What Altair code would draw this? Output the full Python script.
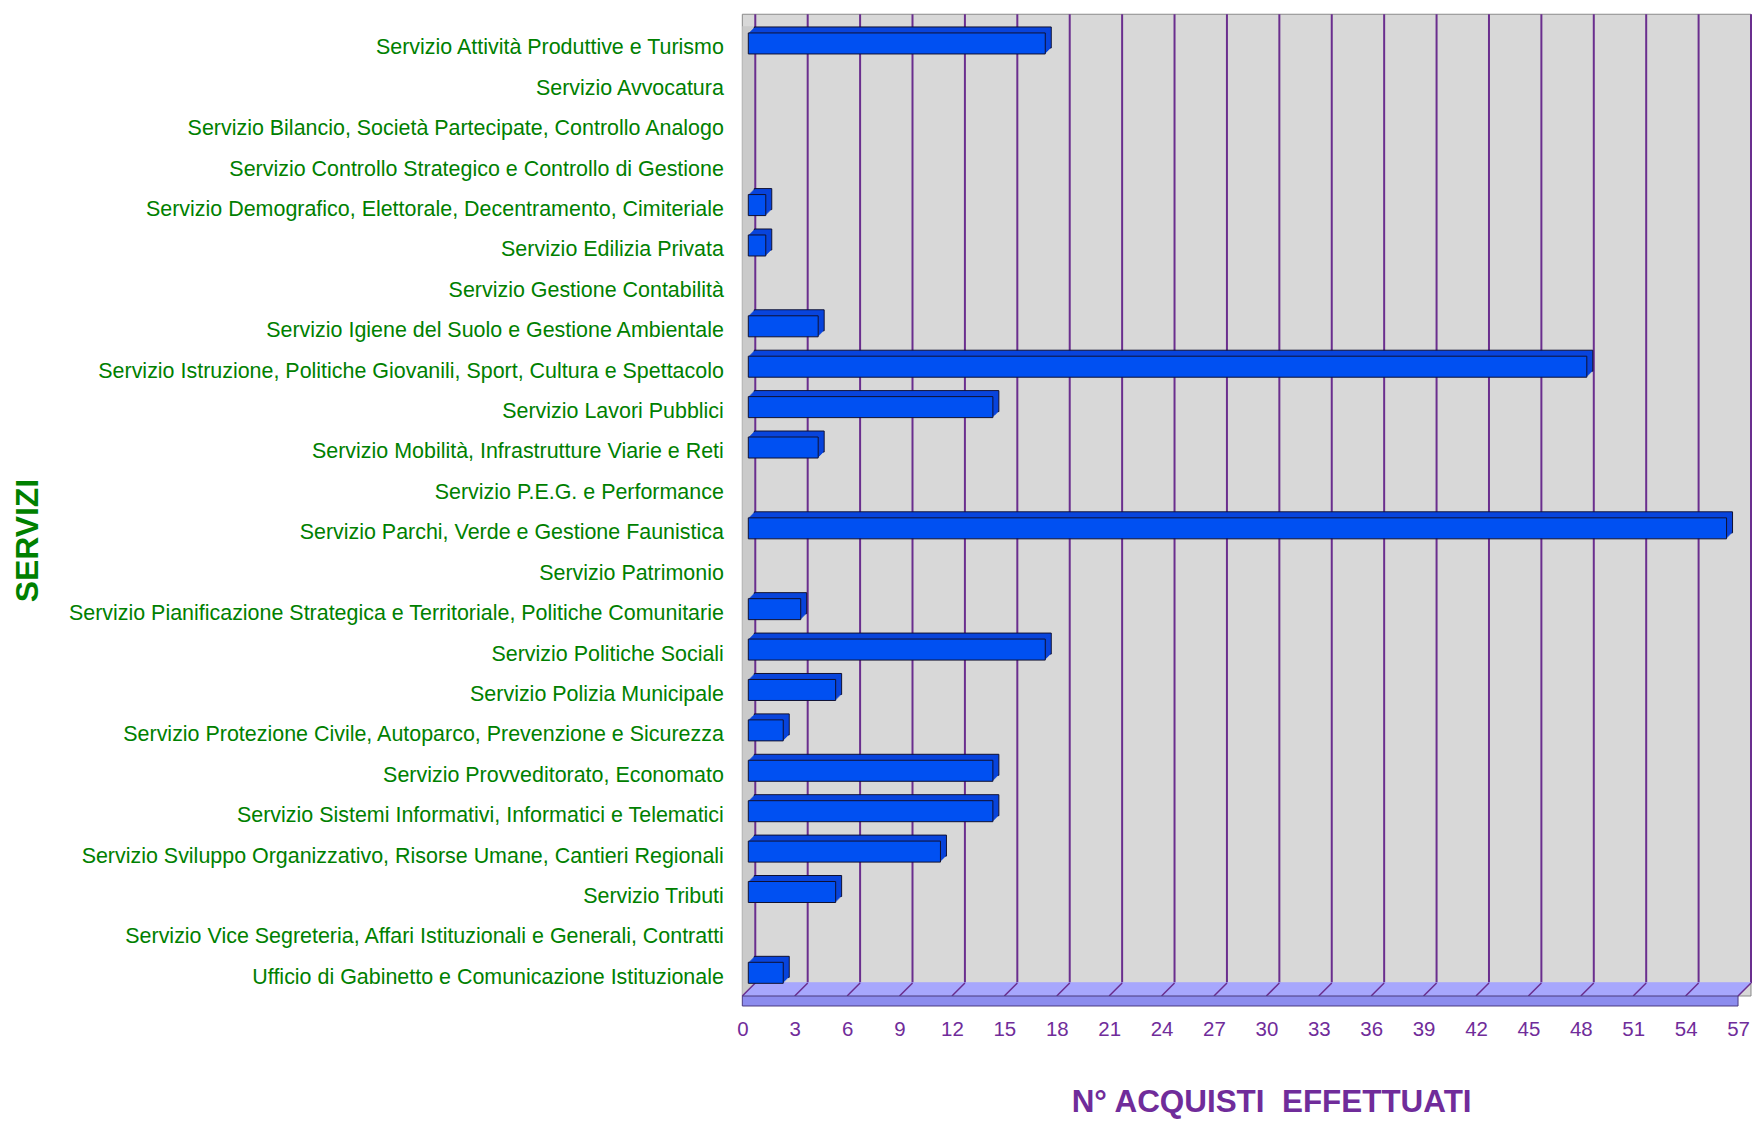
import altair as alt
import pandas as pd

services = [
    "Servizio Attività Produttive e Turismo",
    "Servizio Avvocatura",
    "Servizio Bilancio, Società Partecipate, Controllo Analogo",
    "Servizio Controllo Strategico e Controllo di Gestione",
    "Servizio Demografico, Elettorale, Decentramento, Cimiteriale",
    "Servizio Edilizia Privata",
    "Servizio Gestione Contabilità",
    "Servizio Igiene del Suolo e Gestione Ambientale",
    "Servizio Istruzione, Politiche Giovanili, Sport, Cultura e Spettacolo",
    "Servizio Lavori Pubblici",
    "Servizio Mobilità, Infrastrutture Viarie e Reti",
    "Servizio P.E.G. e Performance",
    "Servizio Parchi, Verde e Gestione Faunistica",
    "Servizio Patrimonio",
    "Servizio Pianificazione Strategica e Territoriale, Politiche Comunitarie",
    "Servizio Politiche Sociali",
    "Servizio Polizia Municipale",
    "Servizio Protezione Civile, Autoparco, Prevenzione e Sicurezza",
    "Servizio Provveditorato, Economato",
    "Servizio Sistemi Informativi, Informatici e Telematici",
    "Servizio Sviluppo Organizzativo, Risorse Umane, Cantieri Regionali",
    "Servizio Tributi",
    "Servizio Vice Segreteria, Affari Istituzionali e Generali, Contratti",
    "Ufficio di Gabinetto e Comunicazione Istituzionale",
]
acquisti = [17, 0, 0, 0, 1, 1, 0, 4, 48, 14, 4, 0, 56, 0, 3, 17, 5, 2, 14, 14, 11, 5, 0, 2]
ticks = list(range(0, 58, 3))

FONT = "Liberation Sans"
GREEN = "#008000"
PURPLE = "#702C9A"
GRID = "#6A2E8E"

df = pd.DataFrame({"servizio": services, "n": acquisti})
bars_df = df[df["n"] > 0]
tick_df = pd.DataFrame({"t": ticks})
one = pd.DataFrame({"a": [0]})

W, H = 998, 972
DEPTH = 13
HALF = 6

xscale = alt.Scale(domain=[0, 57], nice=False, zero=True)
yscale = alt.Scale(domain=services, paddingInner=0.48, paddingOuter=0.24)

xaxis = alt.Axis(values=ticks, title="N° ACQUISTI\u00a0 EFFETTUATI",
                 labelFont=FONT, labelFontSize=20.5, labelColor=PURPLE,
                 labelBaseline="middle", labelPadding=34, labelFlush=False,
                 ticks=False, domain=False, grid=False,
                 titleFont=FONT, titleFontSize=31.5, titleFontWeight="bold",
                 titleColor=PURPLE, titleX=530, titleY=107,
                 titleAlign="center", titleBaseline="middle")
yaxis = alt.Axis(title="SERVIZI", labelFont=FONT, labelFontSize=21.5,
                 labelColor=GREEN, labelPadding=19, labelLimit=0, labelOffset=2,
                 ticks=False, domain=False, grid=False,
                 titleFont=FONT, titleFontSize=32, titleFontWeight="bold",
                 titleColor=GREEN, titleAngle=270, titleX=-716, titleY=515,
                 titleAlign="center", titleBaseline="middle")


def Xd(v):
    return alt.X(datum=v, scale=xscale, axis=xaxis)


layers = []

# back wall
layers.append(
    alt.Chart(one).mark_rect(color="#D8D8D8", stroke="#8A8A8A", strokeWidth=1,
                             x2Offset=DEPTH)
    .encode(x=Xd(0), x2=alt.X2(datum=57),
            y=alt.value(-DEPTH + 1), y2=alt.value(H))
)
# left wall strip
layers.append(
    alt.Chart(one).mark_rect(color="#CACACA", x2Offset=DEPTH)
    .encode(x=Xd(0), x2=alt.X2(datum=0),
            y=alt.value(0), y2=alt.value(H))
)
# gridlines on back wall
layers.append(
    alt.Chart(tick_df).mark_rule(color=GRID, strokeWidth=2, xOffset=DEPTH)
    .encode(x=alt.X("t:Q", scale=xscale, axis=xaxis),
            y=alt.value(-DEPTH + 1), y2=alt.value(H - DEPTH))
)
# floor top face (swept)
for k in range(0, DEPTH + 1):
    layers.append(
        alt.Chart(one).mark_rule(color="#A4A4FF", strokeWidth=1.6,
                                 xOffset=k, x2Offset=k)
        .encode(x=Xd(0), x2=alt.X2(datum=57),
                y=alt.value(H - k), y2=alt.value(H - k))
    )
# floor diagonal lines
layers.append(
    alt.Chart(tick_df).mark_rule(color=GRID, strokeWidth=1.5, x2Offset=DEPTH)
    .encode(x=alt.X("t:Q", scale=xscale, axis=xaxis), x2="t:Q",
            y=alt.value(H), y2=alt.value(H - DEPTH))
)
# floor front face
layers.append(
    alt.Chart(one).mark_rect(color="#8C8CEE", stroke="#4A3A80", strokeWidth=1)
    .encode(x=Xd(0), x2=alt.X2(datum=57),
            y=alt.value(H), y2=alt.value(H + 10))
)
# bar extrusions (from mid depth to back wall)
for k in range(DEPTH - 1, HALF, -1):
    d = k - HALF
    layers.append(
        alt.Chart(bars_df).mark_bar(
            color="#0844DC",
            stroke="#101030" if k == DEPTH - 1 else "#0844DC",
            strokeWidth=1 if k == DEPTH - 1 else 0,
            xOffset=k, x2Offset=k, yOffset=-3 - d, y2Offset=-3 - d)
        .encode(x=alt.X("n:Q", scale=xscale, axis=xaxis),
                y=alt.Y("servizio:N", scale=yscale, sort=services, axis=yaxis))
    )
# bar front faces
layers.append(
    alt.Chart(bars_df).mark_bar(
        color="#0050F2", stroke="#101030", strokeWidth=1,
        xOffset=HALF, x2Offset=HALF, yOffset=-3, y2Offset=-3
    ).encode(
        x=alt.X("n:Q", scale=xscale, axis=xaxis),
        y=alt.Y("servizio:N", scale=yscale, sort=services, axis=yaxis),
    )
)

chart = alt.layer(*layers).properties(
    width=W, height=H,
    autosize=alt.AutoSizeParams(type="none"),
    padding={"left": 736, "top": 17, "right": 14, "bottom": 126},
    background="white",
).configure_view(stroke=None)

chart.save("out.html", embed_options={"renderer": "svg", "actions": False})
